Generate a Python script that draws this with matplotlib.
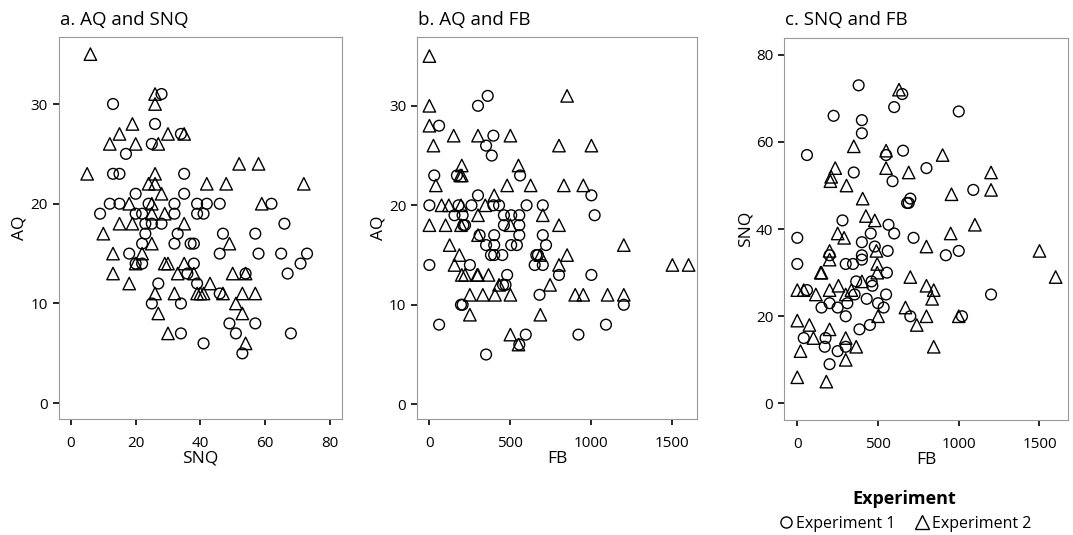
import matplotlib.pyplot as plt
from matplotlib.lines import Line2D

plt.rcParams['font.family'] = ['Open Sans', 'DejaVu Sans']

# a. AQ vs SNQ  (SNQ, AQ)
a_exp1 = [(28,31),(13,30),(26,28),(34,27),(25,26),(17,25),(13,23),(15,23),(35,23),(20,21),(35,21),
          (12,20),(15,20),(24,20),(32,20),(39,20),(42,20),(46,20),(62,20),(9,19),(20,19),(22,19),(32,19),
          (39,19),(41,19),(23,18),(25,18),(28,18),(66,18),(23,17),(33,17),(47,17),(57,17),(22,16),(32,16),
          (37,16),(38,16),(18,15),(46,15),(58,15),(65,15),(73,15),(20,14),(22,14),(38,14),(71,14),(36,13),
          (54,13),(67,13),(27,12),(39,12),(46,11),(25,10),(34,10),(49,8),(57,8),(34,7),(51,7),(68,7),
          (41,6),(53,5)]
a_exp2 = [(6,35),(26,31),(26,30),(19,28),(15,27),(12,26),(20,26),(27,26),(30,27),(35,27),(5,23),(26,23),
          (24,22),(26,22),(42,22),(48,22),(72,22),(52,24),(58,24),(28,21),(18,20),(25,20),(59,20),(15,18),
          (19,18),(25,19),(29,19),(35,18),(10,17),(25,16),(49,16),(13,15),(22,15),(20,14),(29,14),(30,14),
          (35,14),(13,13),(33,13),(38,13),(50,13),(54,13),(18,12),(43,12),(26,11),(32,11),(39,11),(40,11),
          (41,11),(47,11),(53,11),(57,11),(51,10),(27,9),(53,9),(30,7),(54,6)]

# b. AQ vs FB  (FB, AQ)
b_exp1 = [(360,31),(300,30),(60,28),(395,27),(350,26),(385,25),(30,23),(170,23),(560,23),(300,21),
          (1000,21),(0,20),(180,20),(260,20),(395,20),(430,20),(600,20),(700,20),(155,19),(205,19),(460,19),
          (505,19),(555,19),(1020,19),(210,18),(220,18),(460,18),(555,18),(310,17),(400,17),(555,17),(700,17),
          (350,16),(400,16),(505,16),(540,16),(720,16),(380,15),(400,15),(450,15),(660,15),(670,15),(0,14),
          (250,14),(650,14),(700,14),(480,13),(800,13),(1000,13),(455,12),(470,12),(680,11),(205,10),(195,10),
          (1200,10),(60,8),(1090,8),(595,7),(920,7),(555,6),(350,5)]
b_exp2 = [(0,35),(850,31),(0,30),(0,28),(150,27),(300,27),(500,27),(25,26),(800,26),(1000,26),(200,24),
          (550,24),(190,23),(200,23),(40,22),(480,22),(625,22),(830,22),(950,22),(400,21),(75,20),(120,20),
          (195,20),(345,20),(300,19),(700,19),(0,18),(100,18),(195,18),(500,18),(800,18),(300,17),(125,16),
          (1200,16),(185,15),(685,15),(850,15),(155,14),(800,14),(1500,14),(1600,14),(200,13),(220,13),
          (295,13),(300,13),(365,13),(430,12),(745,12),(250,11),(330,11),(405,11),(500,11),(900,11),(950,11),
          (1100,11),(1200,11),(250,9),(685,9),(500,7),(550,6)]

# c. SNQ vs FB  (FB, SNQ)
c_exp1 = [(380,73),(650,71),(600,68),(1000,67),(225,66),(400,65),(400,62),(60,57),(550,57),(655,58),
          (800,54),(350,53),(590,51),(1090,49),(680,46),(700,47),(690,46),(280,42),(455,39),(565,41),(600,39),
          (0,38),(720,38),(400,37),(480,36),(560,35),(200,34),(400,34),(920,34),(1000,35),(0,32),(300,32),
          (345,32),(400,33),(555,30),(60,26),(365,28),(460,28),(465,27),(355,25),(550,25),(1200,25),(430,24),
          (200,23),(500,23),(150,22),(250,22),(310,23),(535,22),(300,20),(700,20),(1020,20),(385,17),(450,18),
          (40,15),(175,15),(170,13),(300,13),(250,12),(200,9)]
c_exp2 = [(630,72),(350,59),(550,58),(900,57),(235,54),(550,54),(210,52),(205,51),(690,53),(1200,53),
          (305,50),(1200,49),(955,48),(405,47),(425,43),(480,42),(1100,41),(250,39),(950,39),(290,38),(200,35),
          (200,33),(490,35),(800,36),(1500,35),(495,32),(145,30),(150,30),(495,30),(700,29),(1600,29),(0,26),
          (40,26),(115,25),(200,26),(255,27),(300,25),(335,26),(400,28),(800,27),(845,26),(835,24),(670,22),
          (500,20),(800,20),(1000,20),(0,19),(75,18),(740,18),(100,15),(200,17),(300,15),(20,12),(365,13),
          (300,10),(845,13),(0,6),(180,5)]

panels = [
    ("a. AQ and SNQ", a_exp1, a_exp2, "SNQ", "AQ", [0, 20, 40, 60, 80], [0, 10, 20, 30],
     (-3.7, 83.8), (-1.6, 36.7), [0.055, 0.2165, 0.2637, 0.7140]),
    ("b. AQ and FB", b_exp1, b_exp2, "FB", "AQ", [0, 500, 1000, 1500], [0, 10, 20, 30],
     (-74, 1652), (-1.5, 36.9), [0.389, 0.2165, 0.2606, 0.7140]),
    ("c. SNQ and FB", c_exp1, c_exp2, "FB", "SNQ", [0, 500, 1000, 1500], [0, 20, 40, 60, 80],
     (-80, 1675), (-3.8, 83.8), [0.731, 0.2150, 0.2641, 0.7135]),
]

fig = plt.figure(figsize=(10.73, 5.35), dpi=100)
for title, e1, e2, xl, yl, xt, yt, xlim, ylim, rect in panels:
    ax = fig.add_axes(rect)
    ax.scatter([p[0] for p in e1], [p[1] for p in e1], s=60, marker='o',
               facecolors='none', edgecolors='black', linewidths=1)
    ax.scatter([p[0] for p in e2], [p[1] for p in e2], s=80, marker='^',
               facecolors='none', edgecolors='black', linewidths=1)
    ax.set_xlim(*xlim)
    ax.set_ylim(*ylim)
    ax.set_xticks(xt)
    ax.set_yticks(yt)
    ax.tick_params(direction='out', length=4.5, width=1.2, colors='black', labelsize=11)
    ax.tick_params(axis='x', pad=7.5)
    for s in ax.spines.values():
        s.set_color('#999999')
    ax.set_xlabel(xl, fontsize=12.5, labelpad=0)
    ax.set_ylabel(yl, fontsize=12.5, labelpad=2)
    fig.text(rect[0] + 0.001, 1 - 25 / 535, title, fontsize=13.5, ha='left', va='baseline')

handles = [Line2D([], [], marker='o', ls='none', mfc='none', mec='black', ms=8, label='Experiment 1'),
           Line2D([], [], marker='^', ls='none', mfc='none', mec='black', ms=10, label='Experiment 2')]
leg = fig.legend(handles=handles, loc='center', bbox_to_anchor=(0.843, 0.045), ncol=2, frameon=False,
                 title='Experiment', fontsize=11.5, handletextpad=0.1, columnspacing=1.2,
                 handlelength=1.0, borderaxespad=0)
leg.get_title().set_fontweight('bold')
leg.get_title().set_fontsize(13)

plt.savefig('out.png', dpi=100)
